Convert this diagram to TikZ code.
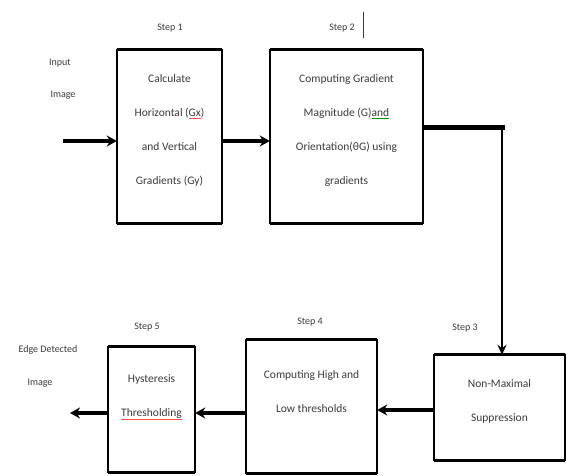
\documentclass[tikz,border=0pt]{standalone}
\usepackage{fontspec}
\setmainfont{Carlito}
\usetikzlibrary{arrows.meta,calc}
\definecolor{txt}{HTML}{3A3A3A}
\newcommand{\spellmark}[2]{\setbox0\hbox{#2}\rlap{\color{#1}\rule[-2.8pt]{\wd0}{0.7pt}}\box0}
\tikzset{
  stepbox/.style={inner sep=0pt},
  boxtext/.style={text=txt, align=center, font=\fontsize{11.5}{34}\selectfont, inner sep=0pt},
  smalltext/.style={text=txt, font=\fontsize{10}{12}\selectfont, inner sep=0pt},
  flow/.style={line width=3.4pt, -{Stealth[length=10pt,width=11pt]}},
}
\begin{document}
\begin{tikzpicture}[x=1pt,y=-1pt]
\useasboundingbox (0,0) rectangle (566,476);
% boxes
\node[stepbox, minimum width=105pt, minimum height=173pt] (b1) at (169.5,136.5) {};
\node[stepbox, minimum width=153pt, minimum height=173pt] (b2) at (346.5,136.5) {};
\node[stepbox, minimum width=130pt, minimum height=105pt] (b3) at (499.5,407.5) {};
\node[stepbox, minimum width=131pt, minimum height=133pt] (b4) at (311.5,406.5) {};
\node[stepbox, minimum width=87pt, minimum height=125pt] (b5) at (151.5,409.5) {};
\foreach \b in {b1,b2,b3,b4,b5}{
  \draw[line width=1.8pt] (\b.north west) rectangle (\b.south east);
  \draw[line width=3.2pt] (\b.north west) -- (\b.north east);
  \draw[line width=3.2pt] (\b.south west) -- (\b.south east);
}
% box texts
\node[boxtext] (t1) at (169.5,130) {Calculate\\Horizontal (\spellmark{red!70}{Gx})\\and Vertical\\Gradients (Gy)};
\node[boxtext] (t2) at (346.5,130) {Computing Gradient\\Magnitude (G)\spellmark{green!60!black}{and}\\Orientation(θG) using\\gradients};
\node[boxtext] (t3) at (499.5,401) {Non-Maximal\\Suppression};
\node[boxtext] (t4) at (311.5,392) {Computing High and\\Low thresholds};
\node[boxtext] (t5) at (151.5,397) {Hysteresis\\\spellmark{red!70}{Thresholding}};
% step labels
\node[smalltext] (s1) at (170,28) {Step 1};
\node[smalltext] (s2) at (342,28) {Step 2};
\draw[line width=0.9pt, txt] (363,12) -- (363,38);
\node[smalltext] (s3) at (465,328) {Step 3};
\node[smalltext] (s4) at (310,322) {Step 4};
\node[smalltext] (s5) at (147,327) {Step 5};
% io labels
\node[smalltext] (in1) at (60,63) {Input};
\node[smalltext] (in2) at (63,95) {Image};
\node[smalltext] (out1) at (48,350) {Edge Detected};
\node[smalltext] (out2) at (40,383) {Image};
% connectors
\coordinate (src) at (63,141);
\coordinate (dst) at (70,413);
\coordinate (bend) at (502,128);
\draw[flow] (src) -- (b1.west |- src);
\draw[flow] (b1.east |- src) -- (b2.west |- src);
\draw[line width=5pt] (b2.east |- bend) -- ($(bend)+(2.5,0)$);
\draw[line width=1.8pt, -{Stealth[length=10pt,width=9pt]}] ($(bend)+(0,-2.5)$) -- (bend |- b3.north);
\draw[flow] (b3.west |- 0,410) -- (b4.east |- 0,410);
\draw[flow] (b4.west |- dst) -- (b5.east |- dst);
\draw[flow] (b5.west |- dst) -- (dst);
\end{tikzpicture}
\end{document}
